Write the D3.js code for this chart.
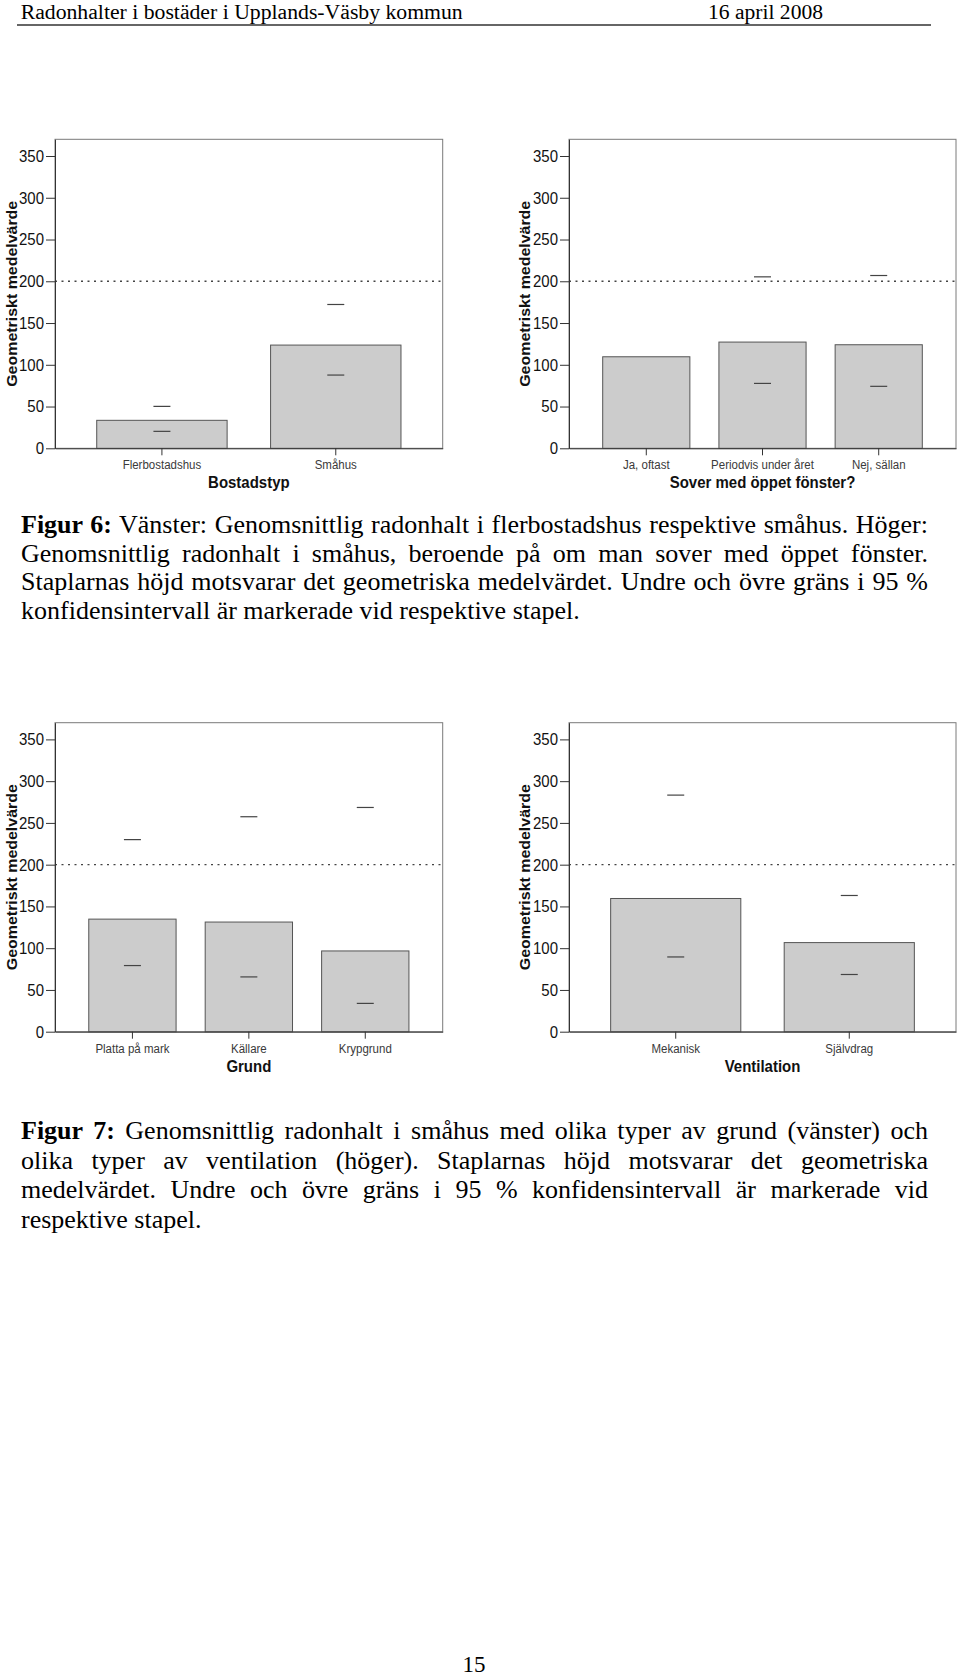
<!DOCTYPE html>
<html><head><meta charset="utf-8">
<script src="https://cdn.jsdelivr.net/npm/d3@7"></script>
<style>
body{margin:0;background:#fff;}
#page{position:relative;width:960px;height:1677px;overflow:hidden;background:#fff;}
svg{position:absolute;left:0;top:0;}
.cap{position:absolute;left:21px;width:907px;font-family:"Liberation Serif","Times New Roman",serif;font-size:26px;line-height:30px;color:#000;margin:0;}
.j{text-align:justify;text-align-last:justify;}
</style></head><body><div id="page"></div>
<script>
// ---- data ----
const yTicks = [0, 50, 100, 150, 200, 250, 300, 350];
const yMax = 370;
const refValue = 200;

const catsA = ["Flerbostadshus", "Småhus"];
const meanA = [33.5, 123.6];
const lowA  = [20.3, 87.7];
const highA = [50.2, 172.2];

const catsB = ["Ja, oftast", "Periodvis under året", "Nej, sällan"];
const meanB = [109.6, 127.2, 124.0];
const lowB  = [null, 77.7, 74.2];
const highB = [null, 205.3, 206.9];

const catsC = ["Platta på mark", "Källare", "Krypgrund"];
const meanC = [134.8, 131.3, 96.7];
const lowC  = [79.2, 65.6, 33.9];
const highC = [230.0, 257.4, 268.5];

const catsD = ["Mekanisk", "Självdrag"];
const meanD = [159.5, 106.7];
const lowD  = [89.5, 68.5];
const highD = [283.3, 163.1];

const yTitle = "Geometriskt medelvärde";
const headerLeft = "Radonhalter i bostäder i Upplands-Väsby kommun";
const headerRight = "16 april 2008";
const pageNumber = "15";

const caption6 = [
  ["<b>Figur 6:</b> Vänster: Genomsnittlig radonhalt i flerbostadshus respektive småhus. Höger:", true],
  ["Genomsnittlig radonhalt i småhus, beroende på om man sover med öppet fönster.", true],
  ["Staplarnas höjd motsvarar det geometriska medelvärdet. Undre och övre gräns i 95 %", true],
  ["konfidensintervall är markerade vid respektive stapel.", false]
];
const caption7 = [
  ["<b>Figur 7:</b> Genomsnittlig radonhalt i småhus med olika typer av grund (vänster) och", true],
  ["olika typer av ventilation (höger). Staplarnas höjd motsvarar det geometriska", true],
  ["medelvärdet. Undre och övre gräns i 95 % konfidensintervall är markerade vid", true],
  ["respektive stapel.", false]
];

// ---- drawing ----
const page = d3.select("#page");
const svg = page.append("svg").attr("width", 960).attr("height", 1677);
const sans = "'Liberation Sans', Arial, Helvetica, sans-serif";
const serif = "'Liberation Serif', 'Times New Roman', serif";

// header
svg.append("text").attr("x", 20.7).attr("y", 18.5).attr("font-family", serif).attr("font-size", 20.5)
  .attr("textLength", 442).attr("lengthAdjust", "spacingAndGlyphs").text(headerLeft);
svg.append("text").attr("x", 708).attr("y", 18.5).attr("font-family", serif).attr("font-size", 20.5)
  .attr("textLength", 115).attr("lengthAdjust", "spacingAndGlyphs").text(headerRight);
svg.append("line").attr("x1", 17).attr("x2", 931).attr("y1", 25).attr("y2", 25)
  .attr("stroke", "#333").attr("stroke-width", 1.6);

// page number
svg.append("text").attr("x", 474).attr("y", 1672).attr("text-anchor", "middle")
  .attr("font-family", serif).attr("font-size", 23).text(pageNumber);

function drawChart(cfg) {
  const {left, right, top, bottom, cats, means, lows, highs, xTitle, yTitleX, pOuter} = cfg;
  const x = d3.scaleBand().domain(cats).range([left, right]).paddingInner(0.25).paddingOuter(pOuter);
  const y = d3.scaleLinear().domain([0, yMax]).range([bottom, top]);
  const g = svg.append("g");

  g.append("rect").attr("x", left).attr("y", top).attr("width", right - left).attr("height", bottom - top)
    .attr("fill", "#fff").attr("stroke", "#7a7a7a").attr("stroke-width", 1);

  g.selectAll("rect.bar").data(cats).join("rect").attr("class", "bar")
    .attr("x", d => x(d)).attr("y", (d, i) => y(means[i]))
    .attr("width", x.bandwidth()).attr("height", (d, i) => y(0) - y(means[i]))
    .attr("fill", "#cccccc").attr("stroke", "#555").attr("stroke-width", 1);

  g.append("line").attr("x1", left).attr("x2", right).attr("y1", y(refValue)).attr("y2", y(refValue))
    .attr("stroke", "#444").attr("stroke-width", 1.4).attr("stroke-dasharray", "2,4.5");

  const marks = [];
  cats.forEach((c, i) => {
    if (lows[i] != null) marks.push({c, v: lows[i]});
    if (highs[i] != null) marks.push({c, v: highs[i]});
  });
  g.selectAll("line.ci").data(marks).join("line").attr("class", "ci")
    .attr("x1", d => x(d.c) + x.bandwidth() / 2 - 8.5).attr("x2", d => x(d.c) + x.bandwidth() / 2 + 8.5)
    .attr("y1", d => y(d.v)).attr("y2", d => y(d.v))
    .attr("stroke", "#444").attr("stroke-width", 1.2);

  const ay = g.append("g").attr("transform", `translate(${left},0)`)
    .call(d3.axisLeft(y).tickValues(yTicks).tickSize(9).tickPadding(2).tickSizeOuter(0));
  ay.select(".domain").attr("stroke", "#333");
  ay.selectAll(".tick line").attr("stroke", "#333");
  ay.selectAll(".tick text").attr("font-family", sans).attr("font-size", 15).attr("fill", "#111")
    .attr("transform", "scale(1,1.12)");

  const ax = g.append("g").attr("transform", `translate(0,${bottom})`)
    .call(d3.axisBottom(x).tickSize(7).tickPadding(4).tickSizeOuter(0));
  ax.select(".domain").attr("stroke", "#333");
  ax.selectAll(".tick line").attr("stroke", "#333");
  ax.selectAll(".tick text").attr("font-family", sans).attr("font-size", 11.5).attr("fill", "#3a3a3a")
    .attr("transform", "scale(1,1.1)");

  g.append("text").attr("transform", `translate(${(left + right) / 2},${bottom + 40}) scale(1,1.1)`)
    .attr("text-anchor", "middle")
    .attr("font-family", sans).attr("font-size", 15).attr("font-weight", "bold").attr("fill", "#111").text(xTitle);

  g.append("text").attr("transform", `translate(${yTitleX},${(top + bottom) / 2}) rotate(-90)`)
    .attr("text-anchor", "middle").attr("dy", "0.36em")
    .attr("font-family", sans).attr("font-size", 15).attr("font-weight", "bold").attr("fill", "#111")
    .attr("textLength", 186).attr("lengthAdjust", "spacingAndGlyphs").text(yTitle);
}

drawChart({left: 55, right: 442.7, top: 139.3, bottom: 448.3, cats: catsA, means: meanA, lows: lowA, highs: highA,
  xTitle: "Bostadstyp", yTitleX: 11.5, pOuter: 0.24});
drawChart({left: 569, right: 956, top: 139.3, bottom: 448.3, cats: catsB, means: meanB, lows: lowB, highs: highB,
  xTitle: "Sover med öppet fönster?", yTitleX: 524.5, pOuter: 0.29});
drawChart({left: 55, right: 442.7, top: 722.7, bottom: 1031.7, cats: catsC, means: meanC, lows: lowC, highs: highC,
  xTitle: "Grund", yTitleX: 11.5, pOuter: 0.29});
drawChart({left: 569, right: 956, top: 722.7, bottom: 1031.7, cats: catsD, means: meanD, lows: lowD, highs: highD,
  xTitle: "Ventilation", yTitleX: 524.5, pOuter: 0.24});

// captions
function caption(lines, firstBaseline, spacing) {
  lines.forEach((l, i) => {
    page.append("div").attr("class", "cap" + (l[1] ? " j" : ""))
      .style("top", (firstBaseline + i * spacing - 23.8) + "px").html(l[0]);
  });
}
caption(caption6, 533.5, 28.8);
caption(caption7, 1140, 29.5);
</script>
</body></html>
